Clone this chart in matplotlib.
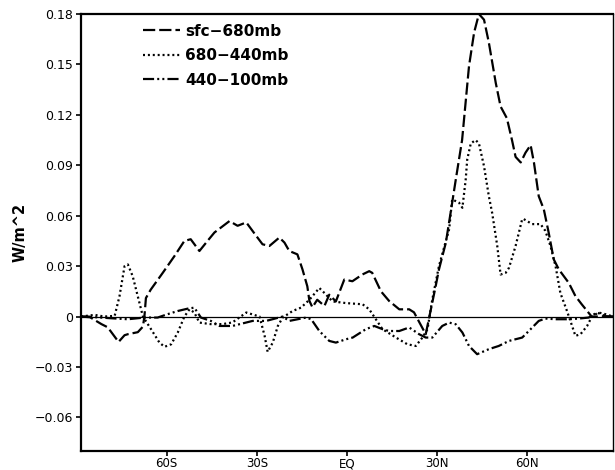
import matplotlib
matplotlib.use("Agg")
import matplotlib.pyplot as plt

# --- DATA (latitude in degrees, flux in W/m^2) ---
lat_sfc = [-88.5, -85.5, -81.7, -79.6, -76.0, -74.0, -72.9, -69.6, -67.9, -67.4, -66.9,
           -65.3, -61.3, -57.4, -54.1, -52.0, -49.1, -46.4, -44.1, -39.1, -36.4, -33.5,
           -30.2, -28.1, -25.8, -22.5, -20.8, -19.2, -16.5, -14.8, -13.2, -12.5, -11.5,
           -9.9, -7.5, -5.9, -3.7, -0.9, 1.8, 5.1, 7.4, 8.4, 11.3, 14.0, 17.4, 20.7,
           22.3, 26.2, 29.5, 30.6, 32.9, 34.5, 36.2, 38.3, 40.6, 42.3, 43.9, 45.6, 47.2,
           49.5, 51.1, 53.2, 54.9, 56.1, 57.8, 59.4, 61.1, 62.2, 63.8, 65.5, 67.1, 68.8,
           70.5, 73.8, 76.0, 78.1, 81.4, 84.7, 88.5]
val_sfc = [0.0, -0.0004, -0.0045, -0.0064, -0.0151, -0.0111, -0.0105, -0.0093, -0.006, 0.0,
           0.011, 0.016, 0.026, 0.036, 0.045, 0.046, 0.039, 0.045, 0.050, 0.0568, 0.054,
           0.056, 0.048, 0.043, 0.042, 0.047, 0.044, 0.039, 0.037, 0.028, 0.018, 0.0093,
           0.0055, 0.010, 0.0063, 0.013, 0.009, 0.022, 0.021, 0.025, 0.027, 0.026, 0.015,
           0.0093, 0.0043, 0.0043, 0.0025, -0.0105, 0.018, 0.028, 0.044, 0.062, 0.0815,
           0.105, 0.149, 0.169, 0.180, 0.1766, 0.163, 0.139, 0.125, 0.118, 0.105, 0.095,
           0.0917, 0.0975, 0.102, 0.0917, 0.0716, 0.0637, 0.050, 0.034, 0.028, 0.020,
           0.0122, 0.0073, 0.0, 0.0, 0.0]

lat_mid = [-88.5, -84.0, -80.7, -77.3, -75.7, -74.0, -72.9, -71.3, -69.6, -67.9, -65.2,
           -62.4, -60.7, -58.5, -56.3, -54.1, -52.4, -50.8, -49.1, -45.4, -41.4, -38.1,
           -33.5, -29.1, -27.4, -26.4, -24.7, -23.0, -21.4, -18.1, -15.3, -12.5, -9.2,
           -7.5, -4.8, -0.3, 5.2, 7.4, 9.6, 11.8, 16.3, 20.1, 22.9, 25.1, 26.8, 28.4,
           30.6, 34.0, 35.0, 37.3, 38.4, 39.5, 40.0, 41.2, 42.8, 43.9, 45.6, 47.2, 48.3,
           50.0, 51.1, 52.8, 53.9, 56.1, 58.3, 58.8, 61.6, 64.4, 66.0, 67.7, 69.4, 71.0,
           73.2, 74.9, 76.0, 77.7, 79.9, 81.5, 83.7, 86.0, 88.5]
val_mid = [0.0, 0.001, 0.0, 0.0004, 0.012, 0.030, 0.031, 0.024, 0.012, 0.0, -0.0075,
           -0.0155, -0.018, -0.0165, -0.0095, 0.0, 0.0043, 0.0024, -0.0036, -0.0045,
           -0.0045, -0.0035, 0.0024, 0.0, -0.0115, -0.021, -0.0155, -0.0056, -0.0006,
           0.0033, 0.0053, 0.010, 0.017, 0.014, 0.009, 0.008, 0.0073, 0.0043, -0.0016,
           -0.0075, -0.0125, -0.0165, -0.0175, -0.0125, -0.0075, 0.0103, 0.030, 0.052,
           0.0697, 0.0677, 0.0647, 0.0815, 0.0934, 0.103, 0.105, 0.103, 0.0894, 0.0716,
           0.0617, 0.042, 0.025, 0.026, 0.029, 0.042, 0.058, 0.058, 0.055, 0.055, 0.051,
           0.042, 0.030, 0.014, 0.0033, -0.0056, -0.0115, -0.0105, -0.0056, 0.0, 0.0024,
           0.0014, 0.0]

lat_upp = [-88.5, -86.2, -82.9, -78.6, -72.9, -67.4, -63.0, -59.7, -56.3, -53.0, -50.8,
           -48.6, -45.3, -42.4, -38.1, -31.4, -26.9, -21.4, -19.2, -13.6, -11.9, -9.2,
           -5.9, -3.7, -0.3, 1.9, 6.3, 9.1, 11.8, 14.0, 17.4, 20.7, 24.0, 26.2, 28.4,
           31.7, 34.0, 36.2, 38.4, 40.6, 43.3, 47.2, 50.5, 53.9, 58.3, 60.5, 63.8, 66.0,
           69.4, 73.8, 77.1, 80.4, 83.2, 86.0, 88.5]
val_upp = [0.0, 0.0, -0.0005, -0.001, -0.0016, -0.0006, -0.0006, 0.0014, 0.0033, 0.0047,
           0.0053, -0.0006, -0.0026, -0.0056, -0.0056, -0.0026, -0.0026, 0.0, -0.0026,
           -0.0006, -0.0016, -0.0086, -0.0145, -0.0155, -0.0135, -0.0125, -0.0075, -0.0056,
           -0.0075, -0.0086, -0.0086, -0.0065, -0.0105, -0.0125, -0.0125, -0.0056, -0.0036,
           -0.0046, -0.0095, -0.0175, -0.0224, -0.0194, -0.0175, -0.0145, -0.0125, -0.0086,
           -0.0026, -0.0012, -0.0016, -0.0016, -0.0012, -0.0006, 0.0024, 0.0002, 0.0]

labels = ['sfc\u2212680mb', '680\u2212440mb', '440\u2212100mb']
xtick_pos = [-60, -30, 0, 30, 60]
xtick_lab = ['60S', '30S', 'EQ', '30N', '60N']
ytick_pos = [-0.06, -0.03, 0, 0.03, 0.06, 0.09, 0.12, 0.15, 0.18]
ytick_lab = ['\u22120.06', '\u22120.03', '0', '0.03', '0.06', '0.09', '0.12', '0.15', '0.18']

plt.rcParams['font.family'] = ['DejaVu Sans']

fig = plt.figure(figsize=(6.15, 4.70), dpi=100)
ax = fig.add_axes([0.1317, 0.0404, 0.8650, 0.9298])

ax.axhline(0, color='black', linewidth=0.9, zorder=1)
ax.plot(lat_sfc, val_sfc, color='black', linewidth=1.6, linestyle=(0, (5.5, 1.8)),
        label=labels[0])
ax.plot(lat_mid, val_mid, color='black', linewidth=1.6, linestyle=(0, (0.9, 1.3)),
        label=labels[1])
ax.plot(lat_upp, val_upp, color='black', linewidth=1.6,
        linestyle=(0, (5, 1.4, 0.9, 1.4, 0.9, 1.4)), label=labels[2])

ax.set_xlim(-88.5, 88.5)
ax.set_ylim(-0.08, 0.18)
ax.set_xticks(xtick_pos)
ax.set_xticklabels(xtick_lab)
ax.set_yticks(ytick_pos)
ax.set_yticklabels(ytick_lab)
ax.tick_params(axis='both', direction='out', length=3.5, width=1.2, labelsize=9)
ax.tick_params(axis='y', pad=2.5)
ax.tick_params(axis='x', pad=1.0, labelsize=8.5)
ax.tick_params(top=False, right=False)

for side in ['left', 'bottom', 'top']:
    ax.spines[side].set_linewidth(1.6)
ax.spines['right'].set_linewidth(1.0)

ax.set_ylabel('W/m^2', fontsize=10.5, fontweight='bold', labelpad=5)

ax.legend(loc='upper left', bbox_to_anchor=(0.1165, 0.978), frameon=False,
          borderpad=0, borderaxespad=0, handlelength=2.4, handletextpad=0.35,
          labelspacing=0.62, prop={'weight': 'bold', 'size': 11})

fig.savefig('out.png', dpi=100)
